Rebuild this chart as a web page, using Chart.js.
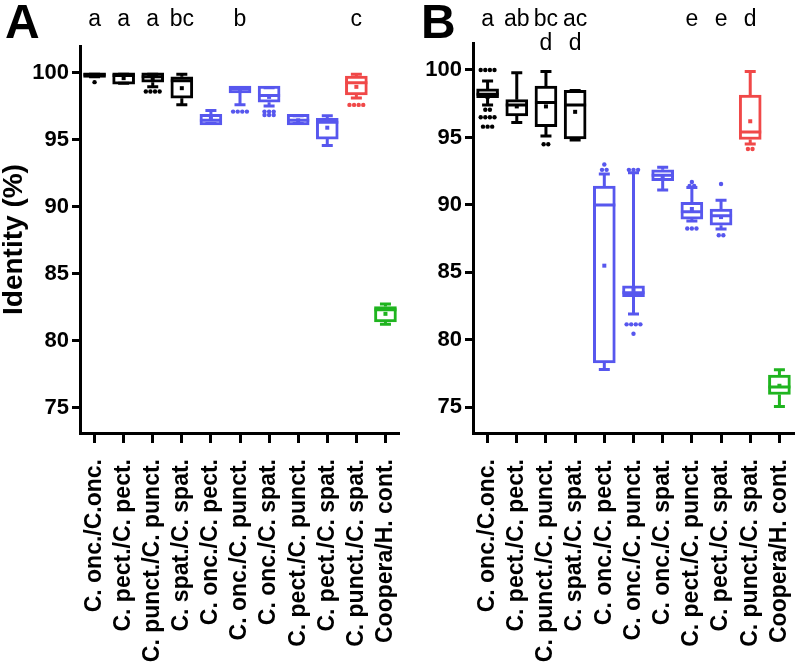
<!DOCTYPE html>
<html>
<head>
<meta charset="utf-8">
<script src="https://cdn.jsdelivr.net/npm/chart.js@4.4.1/dist/chart.umd.min.js"></script>
<style>
  html, body { margin: 0; padding: 0; background: #fff; }
  #wrap { position: relative; width: 800px; height: 672px; }
  canvas { position: absolute; top: 0; }
</style>
</head>
<body>
<div id="wrap">
  <canvas id="chartA" width="400" height="672" style="left:0"></canvas>
  <canvas id="chartB" width="400" height="672" style="left:400px"></canvas>
</div>
<script>
const FONT = "'Liberation Sans', Arial, Helvetica, sans-serif";

const CATEGORIES = [
    'C. onc./C.onc.', 'C. pect./C. pect.', 'C. punct./C. punct.', 'C. spat./C. spat.',
    'C. onc./C. pect.', 'C. onc./C. punct.', 'C. onc./C. spat.', 'C. pect./C. punct.',
    'C. pect./C. spat.', 'C. punct./C. spat.', 'Coopera/H. cont.',
];

const COLORS = { black: '#000000', blue: '#5757ee', red: '#f04848', green: '#1fb41f' };
const CAT_COLORS = [
    COLORS.black, COLORS.black, COLORS.black, COLORS.black,
    COLORS.blue, COLORS.blue, COLORS.blue, COLORS.blue, COLORS.blue,
    COLORS.red, COLORS.green,
];

const Y_TICKS = [75, 80, 85, 90, 95, 100];

// Panel A: sequence identity within / between species
const A_HIGH   = [100.0, 100.0, 100.0, 100.0, 97.3, 99.0, 99.0, 96.9, 96.9, 100.0, 82.85];
const A_Q3     = [100.0, 100.0, 100.0, 99.7, 96.9, 99.0, 99.0, 96.9, 96.6, 99.75, 82.55];
const A_MEDIAN = [99.85, 99.8, 99.7, 99.4, 96.45, 98.8, 98.3, 96.45, 96.3, 99.25, 82.3];
const A_Q1     = [99.65, 99.15, 99.3, 98.1, 96.1, 98.5, 97.8, 96.1, 95.05, 98.35, 81.4];
const A_LOW    = [99.6, 99.1, 98.85, 97.5, 96.1, 97.5, 97.4, 96.1, 94.45, 98.0, 81.1];
const A_MEAN   = [99.8, 99.6, 99.6, 98.85, 96.6, 98.8, 98.2, 96.45, 95.9, 98.95, 82.0];
const A_OUTLIERS = [
    [99.3], [], [98.6, 98.6, 98.6, 98.6], [], [], [97.1, 97.1, 97.1, 97.1],
    [97.1, 97.1, 97.1, 96.85, 96.85, 96.85], [], [], [97.6, 97.6, 97.6, 97.6], [],
];
const A_LETTERS = ['a', 'a', 'a', 'bc', '', 'b', '', '', '', 'c', ''];

// Panel B
const B_HIGH   = [99.3, 99.9, 100.0, 98.6, 92.4, 92.5, 92.9, 91.4, 90.45, 100.0, 77.9];
const B_Q3     = [98.6, 97.8, 98.8, 98.5, 91.4, 84.0, 92.6, 90.2, 89.7, 98.15, 77.4];
const B_MEDIAN = [98.2, 97.4, 97.6, 97.4, 90.0, 83.5, 92.2, 89.5, 89.2, 95.4, 76.5];
const B_Q1     = [97.95, 96.6, 95.8, 94.9, 78.3, 83.2, 91.8, 88.95, 88.5, 94.85, 75.95];
const B_LOW    = [97.3, 96.0, 95.0, 94.7, 77.7, 81.8, 91.0, 88.7, 88.1, 94.4, 74.95];
const B_MEAN   = [98.0, 97.3, 97.3, 96.9, 85.5, 83.7, 92.1, 89.7, 89.1, 96.2, 76.6];
const B_OUTLIERS = [
    [100, 100, 100, 100, 97.05, 97.05, 96.5, 96.5, 96.5, 96.5, 95.8, 95.8, 95.8],
    [], [94.5, 94.5], [], [93.0, 92.6, 92.6],
    [92.6, 92.6, 92.6, 81.15, 81.15, 81.15, 81.15, 80.45], [],
    [91.7, 91.4, 91.4, 88.25, 88.25, 88.25], [91.55, 87.75, 87.75],
    [94.15, 94.15], [],
];
const B_LETTERS = ['a', 'ab', 'bc\nd', 'ac\nd', '', '', '', 'e', 'e', 'd', ''];

// Whiskers, medians, means and outliers on top of the floating-bar boxes
const boxDecor = {
    id: 'boxDecor',
    afterDatasetsDraw(chart, args, o) {
        const { ctx, scales: { x, y } } = chart;
        const half = o.boxWidth / 2, cap = o.capWidth / 2;
        ctx.save();
        ctx.lineWidth = 3;
        o.q1.forEach((q1, i) => {
            const cx = x.getPixelForValue(i);
            const col = CAT_COLORS[i];
            ctx.strokeStyle = col;
            ctx.fillStyle = col;
            const yq1 = y.getPixelForValue(q1);
            const yq3 = y.getPixelForValue(o.q3[i]);
            const yHi = y.getPixelForValue(o.high[i]);
            const yLo = y.getPixelForValue(o.low[i]);
            const yMed = y.getPixelForValue(o.median[i]);
            ctx.beginPath();
            ctx.moveTo(cx, yq3); ctx.lineTo(cx, yHi);
            ctx.moveTo(cx - cap, yHi + 1.5); ctx.lineTo(cx + cap, yHi + 1.5);
            ctx.moveTo(cx, yq1); ctx.lineTo(cx, yLo);
            ctx.moveTo(cx - cap, yLo - 1.5); ctx.lineTo(cx + cap, yLo - 1.5);
            ctx.moveTo(cx - half, yMed); ctx.lineTo(cx + half, yMed);
            ctx.stroke();

            const yMean = y.getPixelForValue(o.mean[i]);
            ctx.fillRect(cx - 2, yMean - 2, 4, 4);

            // spread repeated outlier values sideways
            const groups = new Map();
            o.outliers[i].forEach(v => groups.set(v, (groups.get(v) || 0) + 1));
            for (const [v, n] of groups) {
                const py = y.getPixelForValue(v);
                for (let k = 0; k < n; k++) {
                    const px = cx + (k - (n - 1) / 2) * 4.6;
                    ctx.beginPath();
                    ctx.arc(px, py, 2.2, 0, Math.PI * 2);
                    ctx.fill();
                }
            }
        });
        ctx.restore();
    },
    afterDraw(chart, args, o) {
        const { ctx, scales: { x } } = chart;
        ctx.save();
        ctx.fillStyle = '#000';
        ctx.font = `bold 48px ${FONT}`;
        ctx.textAlign = 'left';
        ctx.textBaseline = 'alphabetic';
        ctx.fillText(o.panel, o.panelX, 38);
        ctx.font = `23px ${FONT}`;
        ctx.textAlign = 'center';
        o.letters.forEach((txt, i) => {
            if (!txt) return;
            txt.split('\n').forEach((line, r) => {
                ctx.fillText(line, x.getPixelForValue(i), 26 + r * 24);
            });
        });
        ctx.restore();
    },
};

function makeChart(id, d) {
    return new Chart(document.getElementById(id), {
        type: 'bar',
        data: {
            labels: CATEGORIES,
            datasets: [{
                data: d.q1.map((v, i) => [v, d.q3[i]]),
                backgroundColor: '#ffffff',
                borderColor: CAT_COLORS,
                borderWidth: 3,
                borderSkipped: false,
                barThickness: 22,
            }],
        },
        options: {
            responsive: false,
            animation: false,
            devicePixelRatio: 1,
            layout: { padding: { top: d.top, right: d.right, left: 0, bottom: 0 } },
            plugins: {
                legend: { display: false },
                tooltip: { enabled: false },
                boxDecor: {
                    q1: d.q1, q3: d.q3, high: d.high, low: d.low, median: d.median,
                    mean: d.mean, outliers: d.outliers, letters: d.letters,
                    panel: d.panel, panelX: d.panelX, boxWidth: 22, capWidth: 11,
                },
            },
            scales: {
                x: {
                    offset: true,
                    grid: {
                        offset: false, drawOnChartArea: false, drawTicks: true,
                        tickLength: 10, tickWidth: 3, tickColor: '#000',
                    },
                    border: { display: true, color: '#000', width: 3 },
                    ticks: {
                        color: '#000', autoSkip: false, minRotation: 90, maxRotation: 90,
                        padding: 16, font: { family: FONT, size: 23, weight: 'bold' },
                    },
                    afterFit: s => {
                        s.height = 239;
                        s.paddingLeft = 0;
                        s.paddingRight = 0;
                    },
                },
                y: {
                    min: 73.1,
                    max: 102,
                    afterBuildTicks: s => { s.ticks = Y_TICKS.map(v => ({ value: v })); },
                    grid: {
                        drawOnChartArea: false, drawTicks: true,
                        tickLength: 8, tickWidth: 3, tickColor: '#000',
                    },
                    border: { display: true, color: '#000', width: 3 },
                    ticks: {
                        color: '#000', padding: 3,
                        font: { family: FONT, size: 22, weight: 'bold' },
                    },
                    title: {
                        display: d.showTitle, text: 'Identity (%)', color: '#000',
                        padding: 0, font: { family: FONT, size: 28, weight: 'bold', lineHeight: 1 },
                    },
                    afterFit: s => { s.width = d.axisWidth; },
                },
            },
        },
        plugins: [boxDecor],
    });
}

makeChart('chartA', {
    q1: A_Q1, q3: A_Q3, high: A_HIGH, low: A_LOW, median: A_MEDIAN, mean: A_MEAN,
    outliers: A_OUTLIERS, letters: A_LETTERS, panel: 'A', panelX: 5,
    top: 46, right: 0, axisWidth: 80, showTitle: true,
});
makeChart('chartB', {
    q1: B_Q1, q3: B_Q3, high: B_HIGH, low: B_LOW, median: B_MEDIAN, mean: B_MEAN,
    outliers: B_OUTLIERS, letters: B_LETTERS, panel: 'B', panelX: 21,
    top: 43, right: 6, axisWidth: 73, showTitle: false,
});
</script>
</body>
</html>
